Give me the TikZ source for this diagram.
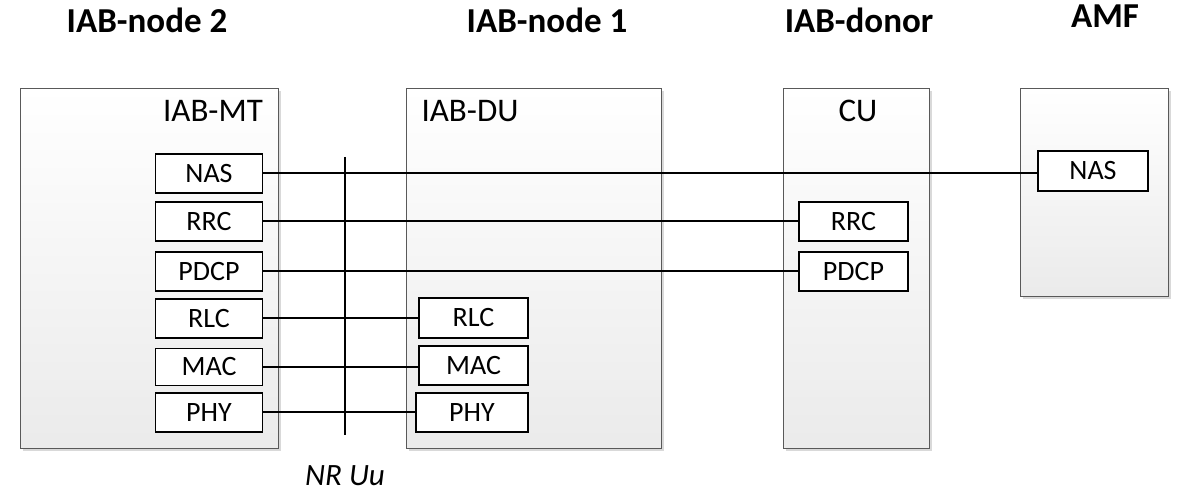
\documentclass[tikz,border=0pt]{standalone}
\usepackage{fontspec}
\setmainfont{Carlito}
\usetikzlibrary{shadows}
\begin{document}
\begin{tikzpicture}[x=1pt,y=-1pt,
  bigbox/.style={draw=black!65, line width=0.9pt, top color=white, bottom color=black!8, shading angle=0,
    minimum width=#1, inner sep=0pt,
    drop shadow={shadow xshift=3pt, shadow yshift=-3pt, fill=black!25, opacity=0.6}},
  layer/.style={draw=black, line width=1.1pt, fill=white, inner sep=0pt, minimum height=39pt, minimum width=#1,
    text height=17.5pt, text depth=0pt, font=\fontsize{28}{30}\selectfont},
  layer/.default=107pt,
  title/.style={font=\fontsize{35}{40}\selectfont\bfseries, anchor=base},
  sublabel/.style={font=\fontsize{33}{36}\selectfont, anchor=base},
  link/.style={line width=2pt, black}]
\useasboundingbox (0,0) rectangle (1189,502);
% big boxes
\node[bigbox=258pt, minimum height=360pt] (n2) at (149,268) {};
\node[bigbox=255pt, minimum height=360pt] (n1) at (533.5,268) {};
\node[bigbox=146pt, minimum height=360pt] (cu) at (856,268) {};
\node[bigbox=148pt, minimum height=208pt] (amf) at (1094,192) {};
% titles
\node[title] (t2) at (147,33) {IAB-node 2};
\node[title] (t1) at (547,33) {IAB-node 1};
\node[title] (td) at (859,33) {IAB-donor};
\node[title] (ta) at (1105,28) {AMF};
\node[sublabel] (lmt) at (213,122) {IAB-MT};
\node[sublabel] (ldu) at (470,122) {IAB-DU};
\node[sublabel] (lcu) at (858,122) {CU};
% left stack
\node[layer] (nasL) at (209,173.5) {NAS};
\node[layer] (rrcL) at (209,221.5) {RRC};
\node[layer] (pdcpL) at (209,271.5) {PDCP};
\node[layer] (rlcL) at (209,318.5) {RLC};
\node[layer, minimum height=37pt] (macL) at (209,367) {MAC};
\node[layer] (phyL) at (209,412.5) {PHY};
% DU stack
\node[layer=109pt, minimum height=40pt] (rlcD) at (473.5,318) {RLC};
\node[layer=109pt] (macD) at (473.5,365.5) {MAC};
\node[layer=112pt] (phyD) at (472,412.5) {PHY};
% CU stack
\node[layer=109pt] (rrcC) at (853.5,221.5) {RRC};
\node[layer=109pt] (pdcpC) at (853.5,271.5) {PDCP};
% AMF
\node[layer=110pt, minimum height=40pt] (nasA) at (1093,171) {NAS};
% connectors
\draw[link] (nasL.east) -- (nasL.east -| nasA.west);
\draw[link] (rrcL.east) -- (rrcL.east -| rrcC.west);
\draw[link] (pdcpL.east) -- (pdcpL.east -| pdcpC.west);
\draw[link] (rlcL.east) -- (rlcL.east -| rlcD.west);
\draw[link] (macL.east) -- (macL.east -| macD.west);
\draw[link] (phyL.east) -- (phyL.east -| phyD.west);
% NR Uu line
\coordinate (uuTop) at (345,157);
\coordinate (uuBot) at (345,435);
\draw[link] (uuTop) -- (uuBot);
\node[font=\fontsize{31}{34}\selectfont\itshape, anchor=base] (uu) at (345,485) {NR Uu};
\end{tikzpicture}
\end{document}
